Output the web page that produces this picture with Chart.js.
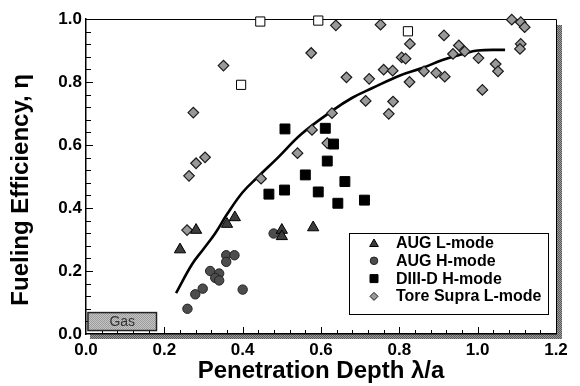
<!DOCTYPE html>
<html>
<head>
<meta charset="utf-8">
<script src="https://cdn.jsdelivr.net/npm/chart.js"></script>
<style>
  html, body { margin: 0; padding: 0; background: #fff; }
</style>
</head>
<body>
<canvas id="chart" width="580" height="386"></canvas>
<script>
// penetration depth (lambda/a), fueling efficiency (eta)
const augLmode = [
  [0.24, 0.268], [0.281, 0.33], [0.36, 0.349], [0.38, 0.37],
  [0.5, 0.33], [0.5, 0.31], [0.58, 0.338],
];
const augHmode = [
  [0.259, 0.08], [0.279, 0.126], [0.298, 0.144], [0.4, 0.141],
  [0.317, 0.2], [0.34, 0.192], [0.33, 0.178], [0.34, 0.17],
  [0.358, 0.25], [0.379, 0.25], [0.358, 0.229], [0.479, 0.319],
];
const diiidHmode = [
  [0.508, 0.651], [0.467, 0.444], [0.507, 0.457], [0.611, 0.653],
  [0.632, 0.603], [0.616, 0.549], [0.56, 0.505], [0.661, 0.484],
  [0.593, 0.451], [0.643, 0.415], [0.711, 0.425],
];
const toreSupra = [
  [0.351, 0.852], [0.274, 0.703], [0.304, 0.561], [0.281, 0.542],
  [0.263, 0.502], [0.447, 0.493], [0.54, 0.574], [0.258, 0.33],
  [0.577, 0.648], [0.616, 0.606], [0.638, 0.98], [0.752, 0.982],
  [0.914, 0.948], [0.827, 0.921], [0.575, 0.892], [0.806, 0.878],
  [0.816, 0.874], [0.665, 0.815], [0.723, 0.81], [0.76, 0.839],
  [0.783, 0.836], [0.863, 0.834], [0.894, 0.829], [0.916, 0.817],
  [0.826, 0.8], [0.714, 0.74], [0.784, 0.738], [0.773, 0.699],
  [0.628, 0.701], [1.087, 0.998], [1.11, 0.99], [1.12, 0.974],
  [1.11, 0.921], [1.108, 0.905], [0.952, 0.916], [0.937, 0.889],
  [0.967, 0.897], [1.002, 0.876], [1.046, 0.857], [1.052, 0.834],
  [1.012, 0.775],
];
const openSquares = [[0.396, 0.791], [0.445, 0.992], [0.593, 0.995], [0.822, 0.961]];
const fitCurve = [
  [0.23, 0.13], [0.27, 0.22], [0.3, 0.27], [0.33, 0.32], [0.36, 0.38],
  [0.4, 0.45], [0.44, 0.5], [0.49, 0.56], [0.55, 0.635], [0.63, 0.71],
  [0.68, 0.75], [0.73, 0.78], [0.8, 0.82], [0.86, 0.845], [0.91, 0.87],
  [0.96, 0.888], [1.0, 0.9], [1.07, 0.902],
];
const seriesLabels = ["AUG L-mode", "AUG H-mode", "DIII-D H-mode", "Tore Supra L-mode"];
const gasBox = { x0: 0.005, x1: 0.18, y0: 0.011, y1: 0.068, label: "Gas" };
const minorStep = 0.04;

const FONT = "'Liberation Sans', Arial, Helvetica, sans-serif";
const pts = (arr) => arr.map(([x, y]) => ({ x, y }));

function dither(c1, c2) {
  const p = document.createElement("canvas");
  p.width = 2; p.height = 2;
  const g = p.getContext("2d");
  g.fillStyle = c1; g.fillRect(0, 0, 2, 2);
  g.fillStyle = c2; g.fillRect(0, 0, 1, 1); g.fillRect(1, 1, 1, 1);
  return document.getElementById("chart").getContext("2d").createPattern(p, "repeat");
}

function marker(ctx, style, x, y, r) {
  ctx.beginPath();
  if (style === "triangle") {
    ctx.moveTo(x, y - r);
    ctx.lineTo(x + r * 0.866, y + r * 0.5);
    ctx.lineTo(x - r * 0.866, y + r * 0.5);
    ctx.closePath();
  } else if (style === "circle") {
    ctx.arc(x, y, r, 0, Math.PI * 2);
  } else if (style === "rect") {
    ctx.rect(x - r, y - r, 2 * r, 2 * r);
  } else {
    ctx.moveTo(x - r, y); ctx.lineTo(x, y - r); ctx.lineTo(x + r, y); ctx.lineTo(x, y + r);
    ctx.closePath();
  }
  ctx.fill();
  ctx.stroke();
}

const decor = {
  id: "decor",
  beforeDraw(chart) {
    const { ctx, chartArea: a } = chart;
    ctx.save();
    ctx.fillStyle = dither("#9a9a9a", "#5a5a5a");
    ctx.fillRect(a.right, a.top + 6, 6, a.bottom - a.top - 1);
    ctx.fillRect(a.left + 4, a.bottom, a.right - a.left + 2, 5);
    ctx.restore();
  },
  beforeDatasetsDraw(chart) {
    const { ctx, chartArea: a, scales } = chart;
    const xs = scales.x, ys = scales.y;
    ctx.save();
    ctx.strokeStyle = "#000";
    ctx.lineWidth = 1;
    ctx.beginPath();
    ctx.moveTo(a.left, a.top + 0.5); ctx.lineTo(a.right + 0.5, a.top + 0.5);
    ctx.lineTo(a.right + 0.5, a.bottom);
    ctx.stroke();
    // inward ticks
    ctx.beginPath();
    for (let i = 1; i * minorStep <= xs.max + 1e-9; i++) {
      const px = Math.round(xs.getPixelForValue(i * minorStep)) + 0.5;
      const len = i % 5 === 0 ? 7 : 4;
      ctx.moveTo(px, a.bottom); ctx.lineTo(px, a.bottom - len);
    }
    for (let i = 1; i * minorStep <= ys.max + 1e-9; i++) {
      const py = Math.round(ys.getPixelForValue(i * minorStep)) + 0.5;
      const len = i % 5 === 0 ? 7 : 5;
      ctx.moveTo(a.left, py); ctx.lineTo(a.left + len, py);
    }
    ctx.stroke();
    // gas box
    const gx0 = xs.getPixelForValue(gasBox.x0), gx1 = xs.getPixelForValue(gasBox.x1);
    const gy0 = ys.getPixelForValue(gasBox.y1), gy1 = ys.getPixelForValue(gasBox.y0);
    ctx.fillStyle = dither("#c4c4c4", "#9c9c9c");
    ctx.fillRect(gx0, gy0, gx1 - gx0, gy1 - gy0);
    ctx.strokeStyle = "#222";
    ctx.lineWidth = 1.5;
    ctx.strokeRect(gx0, gy0, gx1 - gx0, gy1 - gy0);
    ctx.fillStyle = "#333";
    ctx.font = "14px " + FONT;
    ctx.textAlign = "center";
    ctx.textBaseline = "middle";
    ctx.fillText(gasBox.label, (gx0 + gx1) / 2, (gy0 + gy1) / 2 + 1);
    ctx.restore();
  },
  afterDraw(chart) {
    const { ctx, chartArea: a } = chart;
    const bx = a.right - 207, by = a.bottom - 101.5, bw = 199, bh = 81;
    ctx.save();
    ctx.fillStyle = "#fff";
    ctx.fillRect(bx, by, bw, bh);
    ctx.strokeStyle = "#000";
    ctx.lineWidth = 1;
    ctx.strokeRect(Math.round(bx) + 0.5, Math.round(by) + 0.5, bw, bh);
    const sizes = [5, 3.8, 4, 4];
    ctx.font = "bold 16px " + FONT;
    ctx.textBaseline = "middle";
    seriesLabels.forEach((lab, i) => {
      const ds = chart.data.datasets[i];
      const y = by + 10.5 + i * 17.8;
      ctx.fillStyle = ds.backgroundColor;
      ctx.strokeStyle = ds.borderColor;
      ctx.lineWidth = 1;
      marker(ctx, ds.pointStyle, bx + 25, y + (ds.pointStyle === "triangle" ? 1 : 0), sizes[i]);
      ctx.fillStyle = "#000";
      ctx.fillText(lab, bx + 47, y + 0.5);
    });
    ctx.restore();
  },
};

new Chart(document.getElementById("chart"), {
  type: "scatter",
  data: {
    datasets: [
      {
        label: seriesLabels[0], data: pts(augLmode), pointStyle: "triangle",
        pointRadius: 6.5, backgroundColor: "#3c3c3c", borderColor: "#000", borderWidth: 1, clip: false,
      },
      {
        label: seriesLabels[1], data: pts(augHmode), pointStyle: "circle",
        pointRadius: 4.7, backgroundColor: "#4d4d4d", borderColor: "#222", borderWidth: 1, clip: false,
      },
      {
        label: seriesLabels[2], data: pts(diiidHmode), pointStyle: "rect",
        pointRadius: 7, backgroundColor: "#000", borderColor: "#000", borderWidth: 1, clip: false,
      },
      {
        label: seriesLabels[3], data: pts(toreSupra), pointStyle: "rectRot",
        pointRadius: 5.3, backgroundColor: "#999", borderColor: "#1a1a1a", borderWidth: 1.2, clip: false,
      },
      {
        label: "open", data: pts(openSquares), pointStyle: "rect",
        pointRadius: 6.5, backgroundColor: "#fff", borderColor: "#000", borderWidth: 1, clip: false,
      },
      {
        label: "fit", data: pts(fitCurve), showLine: true, pointRadius: 0,
        borderColor: "#000", borderWidth: 2.6, tension: 0.4,
        order: 1,
      },
    ],
  },
  options: {
    responsive: false,
    animation: false,
    devicePixelRatio: 1,
    events: [],
    layout: { padding: { top: 19, right: 24, left: 0, bottom: 0 } },
    plugins: { legend: { display: false }, tooltip: { enabled: false } },
    scales: {
      x: {
        type: "linear", min: 0, max: 1.2,
        afterFit: (s) => { s.height = 52; },
        grid: { display: false, drawTicks: false },
        border: { display: true, color: "#000", width: 1.5 },
        ticks: {
          stepSize: 0.2, padding: 6, color: "#000",
          font: { family: FONT, size: 17, weight: "bold" },
          callback: (v) => v.toFixed(1),
        },
        title: {
          display: true, text: "Penetration Depth λ/a", color: "#000",
          font: { family: FONT, size: 24, weight: "bold" },
          padding: { top: 0, bottom: 0 },
        },
      },
      y: {
        type: "linear", min: 0, max: 1,
        afterFit: (s) => { s.width = 86; },
        grid: { display: false, drawTicks: false },
        border: { display: true, color: "#000", width: 1.5 },
        ticks: {
          stepSize: 0.2, padding: 4, color: "#000",
          font: { family: FONT, size: 17, weight: "bold" },
          callback: (v) => v.toFixed(1),
        },
        title: {
          display: true, text: "Fueling Efficiency, η    ", color: "#000",
          font: { family: FONT, size: 24, weight: "bold" },
          padding: { top: 7, bottom: 0 },
        },
      },
    },
  },
  plugins: [decor],
});
</script>
</body>
</html>
